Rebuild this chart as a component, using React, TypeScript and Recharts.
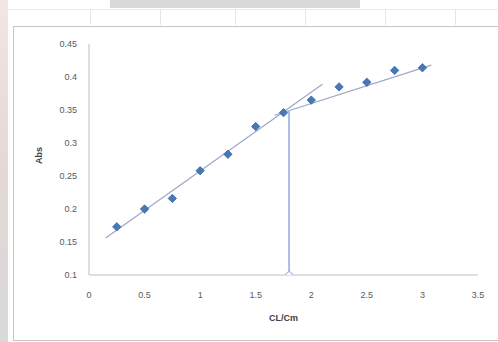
import React from "react";
import {
  ComposedChart,
  XAxis,
  YAxis,
  Scatter,
  Line,
  Label,
} from "recharts";

// Measured absorbance against the CL/Cm ratio
const ratio = [0.25, 0.5, 0.75, 1, 1.25, 1.5, 1.75, 2, 2.25, 2.5, 2.75, 3];
const absorbance = [0.173, 0.2, 0.216, 0.258, 0.283, 0.325, 0.346, 0.365, 0.385, 0.392, 0.41, 0.414];

// Two fitted straight segments (start and end of each)
const fitLowX = [0.15, 2.1];
const fitLowY = [0.156, 0.389];
const fitHighX = [1.67, 3.08];
const fitHighY = [0.342, 0.418];

// Break point dropped to the x axis
const breakX = [1.8, 1.8];
const breakY = [0.1, 0.35];

const xTicks = [0, 0.5, 1, 1.5, 2, 2.5, 3, 3.5];
const yTicks = [0.1, 0.15, 0.2, 0.25, 0.3, 0.35, 0.4, 0.45];

const pts = ratio.map((x, i) => ({ x, y: absorbance[i] }));
const fitLow = fitLowX.map((x, i) => ({ x, y: fitLowY[i] }));
const fitHigh = fitHighX.map((x, i) => ({ x, y: fitHighY[i] }));
const breakLine = breakX.map((x, i) => ({ x, y: breakY[i] }));
const breakFoot = [{ x: breakX[0], y: breakY[0] }];

const FONT = "'Liberation Sans', Arial, sans-serif";
const tickStyle = { fontSize: 9, fill: "#595959", fontFamily: FONT };

const Diamond = (props: any) => {
  const { cx, cy } = props;
  if (cx == null || cy == null) return null;
  const r = 4.2;
  return (
    <polygon
      points={`${cx},${cy - r} ${cx + r},${cy} ${cx},${cy + r} ${cx - r},${cy}`}
      fill="#4677b8"
      stroke="#3b67a3"
      strokeWidth={0.8}
    />
  );
};

const HollowDiamond = (props: any) => {
  const { cx, cy } = props;
  if (cx == null || cy == null) return null;
  const r = 4;
  return (
    <polygon
      points={`${cx},${cy - r} ${cx + r},${cy} ${cx},${cy + r} ${cx - r},${cy}`}
      fill="#ffffff"
      stroke="#a9bde3"
      strokeWidth={1.2}
    />
  );
};

export default function App() {
  return (
    <div
      style={{
        position: "absolute",
        left: 0,
        top: 0,
        width: 498,
        height: 342,
        overflow: "hidden",
        background: "#ffffff",
        fontFamily: FONT,
      }}
    >
      {/* worksheet strip above the chart */}
      <div style={{ position: "absolute", left: 110, top: 0, width: 250, height: 8, background: "#d9d9d9" }} />
      <div style={{ position: "absolute", left: 0, top: 9, width: 498, height: 1, background: "#ececec" }} />
      {[90, 160, 235, 305, 385, 455].map((x) => (
        <div key={x} style={{ position: "absolute", left: x, top: 9, width: 1, height: 16, background: "#e6e6e6" }} />
      ))}
      {/* left margin strip */}
      <div style={{ position: "absolute", left: 0, top: 0, width: 8, height: 342, background: "linear-gradient(#f2e6e2, #e2d8d6 50%, #d9d9d9)" }} />
      {/* chart frame */}
      <div
        style={{
          position: "absolute",
          left: 13,
          top: 26,
          width: 490,
          height: 313,
          borderTop: "1px solid #c6c6c6",
          borderLeft: "1px solid #c6c6c6",
          borderBottom: "1px solid #c6c6c6",
          background: "#ffffff",
        }}
      />
      <div style={{ position: "absolute", left: 0, top: 0 }}>
        <ComposedChart
          width={498}
          height={342}
          margin={{ top: 44, right: 20, bottom: 37, left: 0 }}
        >
          <XAxis
            type="number"
            dataKey="x"
            domain={[0, 3.5]}
            ticks={xTicks}
            interval={0}
            tickFormatter={(v: number) => String(v)}
            tick={tickStyle}
            tickLine={false}
            tickSize={0}
            tickMargin={17}
            axisLine={{ stroke: "#bfbfbf" }}
            height={30}
            allowDataOverflow
          >
            <Label
              value="CL/Cm"
              position="insideBottom"
              offset={-16}
              style={{ fontSize: 9, fontWeight: "bold", fill: "#404040", fontFamily: FONT }}
            />
          </XAxis>
          <YAxis
            type="number"
            dataKey="y"
            domain={[0.1, 0.45]}
            ticks={yTicks}
            interval={0}
            tickFormatter={(v: number) => String(v)}
            tick={tickStyle}
            tickLine={false}
            tickSize={0}
            tickMargin={12}
            axisLine={{ stroke: "#bfbfbf" }}
            width={89}
            allowDataOverflow
          >
            <Label
              value="Abs"
              angle={-90}
              position="insideLeft"
              offset={39}
              dy={-4}
              style={{ fontSize: 9, fontWeight: "bold", fill: "#404040", fontFamily: FONT, textAnchor: "middle" }}
            />
          </YAxis>
          <Line
            data={fitLow}
            dataKey="y"
            type="linear"
            stroke="#9ea6c9"
            strokeWidth={1.2}
            dot={false}
            activeDot={false}
            isAnimationActive={false}
          />
          <Line
            data={fitHigh}
            dataKey="y"
            type="linear"
            stroke="#9ea6c9"
            strokeWidth={1.2}
            dot={false}
            activeDot={false}
            isAnimationActive={false}
          />
          <Line
            data={breakLine}
            dataKey="y"
            type="linear"
            stroke="#a9bde3"
            strokeWidth={2}
            dot={false}
            activeDot={false}
            isAnimationActive={false}
          />
          <Scatter data={breakFoot} dataKey="y" shape={<HollowDiamond />} isAnimationActive={false} />
          <Scatter data={pts} dataKey="y" shape={<Diamond />} isAnimationActive={false} />
        </ComposedChart>
      </div>
    </div>
  );
}
